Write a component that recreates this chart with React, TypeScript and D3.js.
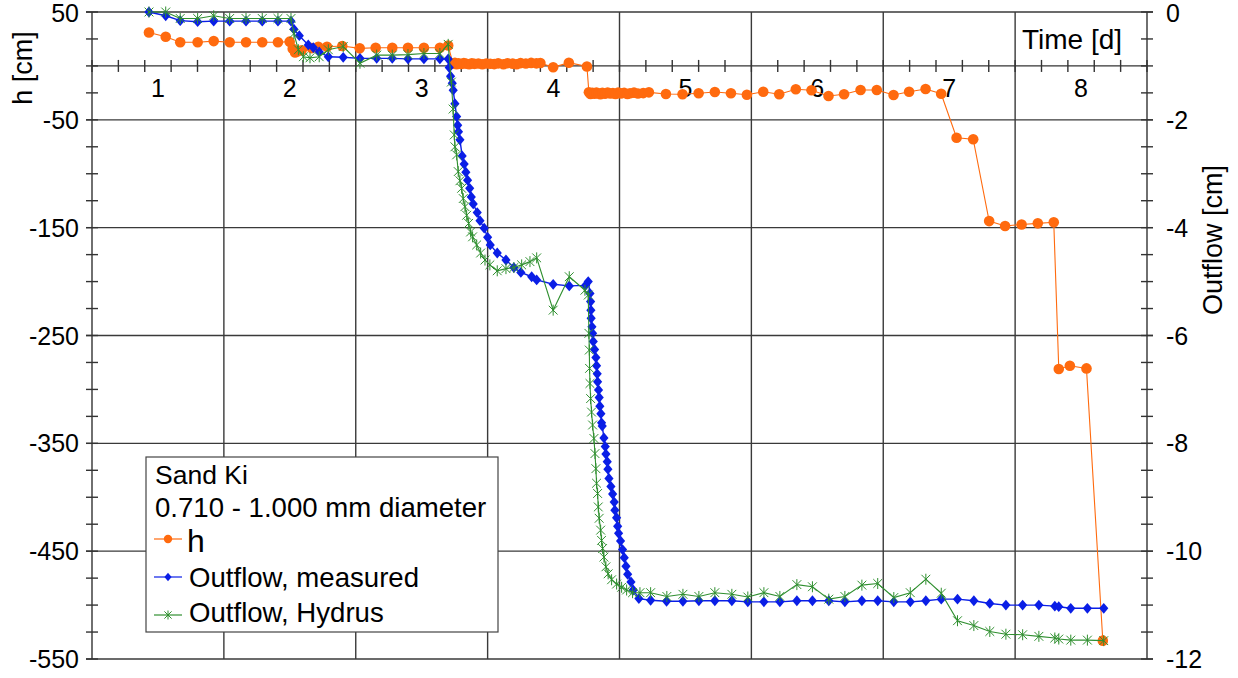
import React from "react";
import * as d3 from "d3";

// Pressure head h [cm] over time [d]
const hTime = [0.932, 1.059, 1.169, 1.301, 1.423, 1.544, 1.668, 1.791, 1.91, 1.999, 2.022, 2.04, 2.06, 2.09, 2.166, 2.216, 2.282, 2.398, 2.53, 2.651, 2.777, 2.896, 3.017, 3.138, 3.201,
  3.237, 3.252, 3.265, 3.28, 3.3, 3.32, 3.34, 3.36, 3.38, 3.4, 3.43, 3.46, 3.49, 3.52, 3.55, 3.58, 3.62, 3.65, 3.69, 3.72, 3.75, 3.79, 3.83, 3.87, 3.9,
  3.997, 4.116, 4.253,
  4.268, 4.28, 4.295, 4.31, 4.325, 4.34, 4.355, 4.37, 4.39, 4.41, 4.43, 4.45, 4.47, 4.49, 4.51, 4.535, 4.56, 4.58, 4.61, 4.64, 4.68,
  4.723, 4.852, 4.978, 5.1, 5.223, 5.345, 5.466, 5.59, 5.711, 5.837, 5.956, 6.085, 6.203, 6.328, 6.451, 6.578, 6.696, 6.821, 6.939,
  7.056, 7.182, 7.303, 7.424, 7.549, 7.672, 7.793, 7.831, 7.915, 8.041, 8.165];
const hValues = [31, 27, 22, 22, 23, 22, 22, 22, 22, 22.5, 16, 12.5, 13.5, 14.5, 16.5, 17.8, 17.8, 18.5, 16.3, 16.8, 16.8, 16.8, 16.8, 16.8, 19,
  2.0, 2.8, 1.5, 2.5, 1.8, 2.6, 2.0, 1.6, 2.4, 1.9, 2.2, 1.5, 2.3, 2.0, 1.7, 2.4, 1.6, 2.5, 2.1, 1.5, 2.6, 2.2, 2.8, 2.4, 2.7,
  -1.3, 3, -0.5,
  -24.5, -26, -25, -25.8, -24.8, -25.5, -26.2, -25, -25.8, -24.6, -25.6, -25.2, -26, -24.8, -25.5, -25, -26, -25.3, -24.8, -25.6, -25.2,
  -24.5, -26, -26.3, -25.4, -24.2, -25.4, -26.7, -23.9, -26.3, -21.7, -22.6, -27.9, -26.3, -22.4, -22.4, -27, -23.9, -21.4, -25.8,
  -66.6, -68, -143.9, -148.5, -147, -146, -145, -281, -278, -280.5, -533];

// Measured cumulative outflow [cm]
const measTime = [0.932, 1.059, 1.169, 1.301, 1.423, 1.544, 1.668, 1.791, 1.91, 2.009, 2.031, 2.072, 2.14, 2.178, 2.223, 2.292, 2.405, 2.532, 2.659, 2.777, 2.896, 3.017, 3.138, 3.201,
  3.209, 3.219, 3.232, 3.239, 3.252, 3.265, 3.273, 3.279, 3.29, 3.307, 3.322, 3.335, 3.348, 3.364, 3.376, 3.391, 3.421, 3.442, 3.474, 3.5, 3.52, 3.573, 3.639, 3.699, 3.752, 3.834, 3.872,
  3.997, 4.119, 4.243, 4.263, 4.276, 4.281, 4.283, 4.285, 4.291, 4.296, 4.301, 4.311, 4.321, 4.326, 4.331, 4.334, 4.341, 4.346, 4.351, 4.359, 4.364, 4.369, 4.382, 4.392, 4.397, 4.407, 4.412, 4.42, 4.435, 4.448, 4.46, 4.465, 4.478, 4.486, 4.493, 4.508, 4.523, 4.536, 4.549, 4.562, 4.587, 4.604, 4.647,
  4.736, 4.857, 4.981, 5.102, 5.223, 5.352, 5.473, 5.595, 5.716, 5.845, 5.963, 6.087, 6.209, 6.338, 6.458, 6.58, 6.705, 6.823, 6.94, 7.063, 7.187, 7.308, 7.43, 7.557, 7.68, 7.801, 7.831, 7.922, 8.048, 8.172];
const measValues = [0, -0.07, -0.16, -0.18, -0.17, -0.17, -0.17, -0.17, -0.17, -0.17, -0.32, -0.44, -0.61, -0.66, -0.74, -0.83, -0.84, -0.86, -0.86, -0.86, -0.87, -0.87, -0.87, -0.87,
  -1.03, -1.19, -1.32, -1.45, -1.7, -1.94, -2.1, -2.22, -2.37, -2.67, -2.82, -2.97, -3.12, -3.27, -3.43, -3.56, -3.72, -3.87, -4.01, -4.18, -4.32, -4.47, -4.6, -4.74, -4.83, -4.91, -4.97,
  -5.05, -5.08, -5.07, -5.0, -5.22, -5.37, -5.53, -5.68, -5.84, -5.96, -6.11, -6.26, -6.41, -6.56, -6.71, -6.86, -7.01, -7.15, -7.31, -7.45, -7.62, -7.68, -7.9, -8.06, -8.2, -8.34, -8.48, -8.65, -8.8, -8.94, -9.09, -9.24, -9.38, -9.54, -9.67, -9.81, -9.97, -10.12, -10.28, -10.43, -10.57, -10.72, -10.88,
  -10.91, -10.93, -10.93, -10.92, -10.92, -10.92, -10.94, -10.94, -10.94, -10.92, -10.92, -10.92, -10.94, -10.92, -10.92, -10.94, -10.94, -10.92, -10.89, -10.89, -10.92, -10.97, -11.0, -11.0, -11.0, -11.02, -11.03, -11.06, -11.06, -11.06];

// Simulated outflow (Hydrus) [cm]
const hydTime = [0.932, 1.059, 1.169, 1.301, 1.423, 1.544, 1.668, 1.791, 1.91, 2.009, 2.031, 2.065, 2.103, 2.153, 2.223, 2.292, 2.405, 2.532, 2.659, 2.777, 2.896, 3.017, 3.138, 3.201,
  3.225, 3.238, 3.247, 3.252, 3.265, 3.277, 3.29, 3.303, 3.315, 3.328, 3.341, 3.356, 3.371, 3.386, 3.417, 3.447, 3.48, 3.517, 3.573, 3.639, 3.699, 3.758, 3.821, 3.872,
  3.997, 4.119, 4.238, 4.263, 4.268, 4.271, 4.273, 4.276, 4.281, 4.288, 4.296, 4.306, 4.314, 4.321, 4.326, 4.334, 4.339, 4.346, 4.357, 4.364, 4.372, 4.382, 4.397, 4.414, 4.44, 4.478, 4.516, 4.554, 4.599, 4.655,
  4.736, 4.859, 4.981, 5.102, 5.223, 5.352, 5.473, 5.595, 5.716, 5.845, 5.963, 6.087, 6.209, 6.338, 6.458, 6.58, 6.705, 6.823, 6.94, 7.063, 7.187, 7.308, 7.43, 7.557, 7.68, 7.801, 7.831, 7.922, 8.048, 8.172];
const hydValues = [0, 0, -0.12, -0.12, -0.07, -0.12, -0.12, -0.12, -0.12, -0.12, -0.4, -0.7, -0.83, -0.85, -0.83, -0.7, -0.64, -0.95, -0.8, -0.8, -0.79, -0.77, -0.77, -0.6,
  -1.3, -1.8, -2.28, -2.5, -2.65, -2.96, -3.13, -3.27, -3.46, -3.61, -3.77, -3.92, -4.08, -4.17, -4.32, -4.47, -4.6, -4.69, -4.8, -4.76, -4.74, -4.69, -4.63, -4.56,
  -5.53, -4.91, -5.16, -5.25, -5.96, -6.27, -6.61, -6.89, -7.17, -7.42, -7.66, -7.91, -8.19, -8.47, -8.74, -8.93, -9.18, -9.39, -9.61, -9.8, -9.95, -10.11, -10.29, -10.42, -10.53, -10.61, -10.67, -10.72, -10.77, -10.77,
  -10.77, -10.84, -10.8, -10.84, -10.77, -10.8, -10.85, -10.77, -10.84, -10.62, -10.66, -10.89, -10.84, -10.63, -10.6, -10.86, -10.77, -10.52, -10.78, -11.29, -11.38, -11.49, -11.54, -11.55, -11.58, -11.61, -11.63, -11.65, -11.65, -11.66];

// Axis ticks and labels
const timeLabels = [1, 2, 3, 4, 5, 6, 7, 8];
const timeGrid = [1.5, 2.5, 3.5, 4.5, 5.5, 6.5, 7.5];
const hLabels = [50, -50, -150, -250, -350, -450, -550];
const outflowLabels = [0, -2, -4, -6, -8, -10, -12];

const legendTitle = ["Sand Ki", "0.710 - 1.000 mm diameter"];
const seriesNames = ["h", "Outflow, measured", "Outflow, Hydrus"];

const FONT = "'Liberation Sans', Arial, Helvetica, sans-serif";
const ORANGE = "#ff6a0e";
const BLUE = "#0a1ee6";
const GREEN = "#2f8f2f";

const L = 92, R = 1147, T = 12, B = 659;

const x = d3.scaleLinear().domain([0.5, 8.5]).range([L, R]);
const yL = d3.scaleLinear().domain([-550, 50]).range([B, T]);
const yR = d3.scaleLinear().domain([-12, 0]).range([B, T]);

function Asterisk({ cx, cy, s = 5.5, color = GREEN }: { cx: number; cy: number; s?: number; color?: string }) {
  const d = s * 0.8;
  return (
    <g stroke={color} strokeWidth={1}>
      <line x1={cx - d} y1={cy - d} x2={cx + d} y2={cy + d} />
      <line x1={cx - d} y1={cy + d} x2={cx + d} y2={cy - d} />
      <line x1={cx} y1={cy - s} x2={cx} y2={cy + s} />
    </g>
  );
}

function Diamond({ cx, cy, s = 5.4, color = BLUE }: { cx: number; cy: number; s?: number; color?: string }) {
  return <path d={`M${cx},${cy - s}L${cx + s * 0.85},${cy}L${cx},${cy + s}L${cx - s * 0.85},${cy}Z`} fill={color} />;
}

export default function App() {
  const hPts = hTime.map((t, i) => [x(t), yL(hValues[i])] as [number, number]);
  const mPts = measTime.map((t, i) => [x(t), yR(measValues[i])] as [number, number]);
  const gPts = hydTime.map((t, i) => [x(t), yR(hydValues[i])] as [number, number]);
  const line = d3.line();

  const xTicks = d3.range(0, 41).map((k) => 0.5 + k * 0.2).filter((v) => v <= 8.5001);
  const hTicks = d3.range(0, 25).map((k) => 50 - k * 25);
  const oTicks = d3.range(0, 25).map((k) => -k * 0.5);

  const lx = 146, ly = 457, lw = 352, lh = 175;

  return (
    <svg width={1238} height={678} style={{ position: "absolute", left: 0, top: 0, background: "#fff" }} fontFamily={FONT}>
      <rect x={0} y={0} width={1238} height={678} fill="#fff" />
      {/* grid */}
      <g stroke="#3a3a3a" strokeWidth={1.4}>
        {timeGrid.map((v) => (
          <line key={"vg" + v} x1={x(v)} x2={x(v)} y1={T} y2={B} />
        ))}
        {hLabels.map((v) => (
          <line key={"hg" + v} x1={L - 6} x2={R + 6} y1={yL(v)} y2={yL(v)} />
        ))}
      </g>
      {/* axes */}
      <g stroke="#333" strokeWidth={1.4}>
        <line x1={L} x2={L} y1={T} y2={B} />
        <line x1={R} x2={R} y1={T} y2={B} />
        <line x1={L} x2={R} y1={yL(0)} y2={yL(0)} />
        {xTicks.map((v) => (
          <line key={"xt" + v} x1={x(v)} x2={x(v)} y1={yL(0) - 6} y2={yL(0) + 6} />
        ))}
        {hTicks.map((v) => (
          <line key={"lt" + v} x1={L - 6} x2={L + 6} y1={yL(v)} y2={yL(v)} />
        ))}
        {oTicks.map((v) => (
          <line key={"rt" + v} x1={R - 6} x2={R + 6} y1={yR(v)} y2={yR(v)} />
        ))}
      </g>
      {/* tick labels */}
      <g fontSize={25} fill="#000">
        {timeLabels.map((v) => (
          <text key={"xl" + v} x={x(v)} y={97} textAnchor="middle">{v}</text>
        ))}
        {hLabels.map((v) => (
          <text key={"yl" + v} x={79} y={Math.max(yL(v) + 9, 22)} textAnchor="end">{v}</text>
        ))}
        {outflowLabels.map((v) => (
          <text key={"yr" + v} x={1166} y={Math.max(yR(v) + 9, 22)} textAnchor="start">{v}</text>
        ))}
      </g>
      {/* axis titles */}
      <text x={1022} y={49} fontSize={28}>Time [d]</text>
      <text transform="translate(32,68) rotate(-90)" textAnchor="middle" fontSize={27}>h [cm]</text>
      <text transform="translate(1222,240) rotate(-90)" textAnchor="middle" fontSize={27}>Outflow [cm]</text>

      {/* h series */}
      <path d={line(hPts) || ""} fill="none" stroke={ORANGE} strokeWidth={1.1} />
      {hPts.map(([px, py], i) => (
        <circle key={"h" + i} cx={px} cy={py} r={5.3} fill={ORANGE} />
      ))}
      {/* measured outflow */}
      <path d={line(mPts) || ""} fill="none" stroke={BLUE} strokeWidth={1.4} />
      {mPts.map(([px, py], i) => (
        <Diamond key={"m" + i} cx={px} cy={py} />
      ))}
      {/* simulated outflow */}
      <path d={line(gPts) || ""} fill="none" stroke={GREEN} strokeWidth={1.1} />
      {gPts.map(([px, py], i) => (
        <Asterisk key={"g" + i} cx={px} cy={py} />
      ))}

      {/* legend */}
      <rect x={lx} y={ly} width={lw} height={lh} fill="#fff" stroke="#444" strokeWidth={1.2} />
      <g fontSize={27.6} fill="#000">
        <text x={155} y={484} fontSize={26.5}>{legendTitle[0]}</text>
        <text x={155} y={517}>{legendTitle[1]}</text>
        <text x={187} y={552} fontSize={32}>{seriesNames[0]}</text>
        <text x={189} y={587}>{seriesNames[1]}</text>
        <text x={189} y={622}>{seriesNames[2]}</text>
      </g>
      <line x1={154} x2={182} y1={539} y2={539} stroke={ORANGE} strokeWidth={1.2} />
      <circle cx={168} cy={539} r={4.2} fill={ORANGE} />
      <line x1={154} x2={182} y1={577} y2={577} stroke={BLUE} strokeWidth={1.2} />
      <Diamond cx={168} cy={577} s={4.2} />
      <line x1={154} x2={182} y1={615} y2={615} stroke={GREEN} strokeWidth={1.2} />
      <Asterisk cx={168} cy={615} s={4.5} />
    </svg>
  );
}
